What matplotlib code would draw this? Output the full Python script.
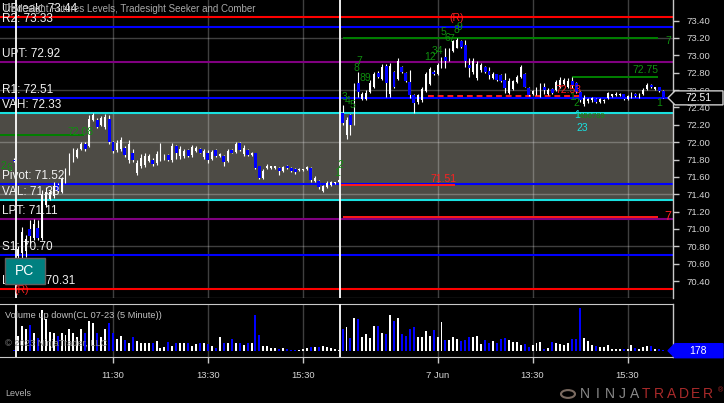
import numpy as np
import matplotlib
matplotlib.use("Agg")
import matplotlib.pyplot as plt
from matplotlib.patches import Rectangle, Polygon
from matplotlib.transforms import IdentityTransform, blended_transform_factory

plt.rcParams['font.family'] = ['Liberation Sans', 'DejaVu Sans']

# CL 07-23, 5 minute bars. first bar = last bar of the previous session,
# then 82 bars on 6 Jun and 82 bars on 7 Jun
opens = [71.80,
    70.69, 70.72, 70.75, 71.00, 70.90, 71.01, 70.90, 71.28, 71.35, 71.38,
    71.51, 71.43, 71.55, 71.63, 71.78, 71.83, 71.92, 71.98, 71.95, 72.26,
    72.26, 72.20, 72.17, 72.27, 72.00, 71.91, 71.92, 71.93, 71.80, 71.88,
    71.64, 71.72, 71.74, 71.78, 71.80, 71.76, 71.80, 71.80, 71.85, 71.80,
    71.95, 71.84, 71.84, 71.91, 71.85, 71.90, 71.92, 71.83, 71.87, 71.81,
    71.91, 71.84, 71.84, 71.78, 71.91, 71.89, 71.99, 71.86, 71.91, 71.85,
    71.87, 71.72, 71.59, 71.70, 71.70, 71.70, 71.70, 71.67, 71.73, 71.70,
    71.69, 71.68, 71.68, 71.69, 71.70, 71.55, 71.55, 71.44, 71.48, 71.51,
    71.53, 71.54,
    72.34, 72.08, 72.31, 72.22, 72.68, 72.50, 72.50, 72.58, 72.63, 72.80,
    72.73, 72.88, 72.55, 72.81, 72.73, 72.86, 72.80, 72.69, 72.54, 72.46,
    72.48, 72.59, 72.67, 72.81, 72.78, 72.86, 72.98, 72.94, 73.05, 73.09,
    73.16, 73.12, 72.89, 72.81, 72.74, 72.83, 72.87, 72.82, 72.74, 72.78,
    72.77, 72.72, 72.57, 72.61, 72.69, 72.75, 72.79, 72.62, 72.55, 72.56,
    72.54, 72.63, 72.56, 72.61, 72.60, 72.64, 72.67, 72.64, 72.71, 72.68,
    72.58, 72.44, 72.47, 72.48, 72.50, 72.46, 72.47, 72.51, 72.53, 72.54,
    72.54, 72.55, 72.50, 72.52, 72.56, 72.52, 72.55, 72.61, 72.66, 72.61,
    72.63, 72.59]
highs = [71.82,
    70.80, 71.02, 70.93, 71.10, 71.12, 71.10, 71.45, 71.48, 71.45, 71.54,
    71.53, 71.60, 71.70, 71.87, 71.93, 71.93, 72.00, 72.00, 72.31, 72.33,
    72.28, 72.30, 72.32, 72.31, 72.01, 72.02, 72.06, 71.95, 72.03, 71.92,
    71.80, 71.86, 71.88, 71.86, 71.82, 71.90, 71.99, 71.86, 71.86, 71.99,
    71.97, 71.96, 71.92, 71.92, 71.97, 71.95, 71.93, 71.92, 71.91, 71.91,
    71.92, 71.88, 71.85, 71.92, 71.92, 72.00, 72.00, 71.97, 71.92, 71.89,
    71.88, 71.73, 71.69, 71.75, 71.73, 71.73, 71.71, 71.73, 71.74, 71.71,
    71.70, 71.70, 71.69, 71.73, 71.71, 71.61, 71.56, 71.51, 71.55, 71.55,
    71.54, 71.57,
    72.43, 72.29, 72.32, 72.68, 72.81, 72.58, 72.60, 72.72, 72.81, 72.82,
    72.90, 72.90, 72.91, 72.82, 72.97, 72.88, 72.81, 72.83, 72.56, 72.56,
    72.64, 72.81, 72.87, 72.83, 72.91, 72.98, 73.08, 73.08, 73.18, 73.20,
    73.18, 73.18, 72.97, 72.97, 72.93, 72.91, 72.88, 72.87, 72.81, 72.79,
    72.78, 72.80, 72.74, 72.72, 72.77, 72.89, 72.80, 72.63, 72.60, 72.64,
    72.68, 72.68, 72.62, 72.62, 72.72, 72.75, 72.74, 72.74, 72.75, 72.69,
    72.59, 72.54, 72.51, 72.52, 72.51, 72.51, 72.50, 72.58, 72.56, 72.58,
    72.57, 72.56, 72.54, 72.58, 72.57, 72.57, 72.62, 72.68, 72.67, 72.64,
    72.64, 72.60]
lows = [71.77,
    70.66, 70.67, 70.68, 70.82, 70.87, 70.87, 70.87, 71.25, 71.33, 71.36,
    71.42, 71.41, 71.53, 71.62, 71.77, 71.82, 71.91, 71.90, 71.94, 72.24,
    72.16, 72.19, 72.15, 71.98, 71.88, 71.89, 71.90, 71.83, 71.76, 71.77,
    71.62, 71.70, 71.71, 71.77, 71.73, 71.74, 71.78, 71.79, 71.78, 71.77,
    71.81, 71.81, 71.82, 71.83, 71.83, 71.89, 71.87, 71.81, 71.76, 71.79,
    71.83, 71.83, 71.73, 71.77, 71.87, 71.88, 71.90, 71.84, 71.84, 71.84,
    71.69, 71.57, 71.58, 71.69, 71.69, 71.69, 71.62, 71.66, 71.69, 71.66,
    71.63, 71.67, 71.67, 71.68, 71.54, 71.54, 71.46, 71.42, 71.47, 71.50,
    71.52, 71.53,
    72.20, 72.04, 72.08, 72.20, 72.52, 72.49, 72.49, 72.57, 72.62, 72.74,
    72.72, 72.52, 72.52, 72.62, 72.72, 72.80, 72.69, 72.51, 72.33, 72.44,
    72.46, 72.58, 72.66, 72.77, 72.77, 72.85, 72.85, 72.93, 73.04, 73.08,
    73.09, 72.87, 72.75, 72.79, 72.72, 72.81, 72.80, 72.73, 72.73, 72.71,
    72.69, 72.57, 72.56, 72.60, 72.68, 72.74, 72.63, 72.53, 72.54, 72.54,
    72.52, 72.56, 72.54, 72.56, 72.59, 72.62, 72.66, 72.62, 72.62, 72.57,
    72.46, 72.42, 72.45, 72.46, 72.45, 72.45, 72.45, 72.50, 72.52, 72.53,
    72.53, 72.48, 72.49, 72.51, 72.52, 72.51, 72.54, 72.60, 72.62, 72.60,
    72.58, 72.51]
closes = [71.78,
    70.77, 70.96, 70.88, 70.92, 71.06, 70.89, 71.40, 71.42, 71.43, 71.50,
    71.44, 71.57, 71.68, 71.83, 71.90, 71.91, 71.98, 71.92, 72.27, 72.31,
    72.18, 72.28, 72.29, 72.00, 71.90, 71.99, 72.03, 71.85, 71.98, 71.80,
    71.76, 71.82, 71.84, 71.84, 71.75, 71.86, 71.93, 71.85, 71.80, 71.95,
    71.87, 71.92, 71.90, 71.84, 71.94, 71.93, 71.88, 71.90, 71.80, 71.89,
    71.84, 71.86, 71.77, 71.90, 71.88, 71.98, 71.91, 71.93, 71.85, 71.88,
    71.70, 71.59, 71.67, 71.73, 71.72, 71.72, 71.67, 71.71, 71.70, 71.67,
    71.66, 71.69, 71.69, 71.71, 71.56, 71.59, 71.48, 71.49, 71.53, 71.54,
    71.54, 71.56,
    72.22, 72.26, 72.20, 72.65, 72.58, 72.56, 72.57, 72.68, 72.78, 72.75,
    72.87, 72.68, 72.88, 72.63, 72.94, 72.81, 72.70, 72.54, 72.45, 72.54,
    72.61, 72.78, 72.84, 72.78, 72.89, 72.96, 72.94, 73.06, 73.16, 73.18,
    73.10, 72.93, 72.85, 72.94, 72.90, 72.89, 72.81, 72.77, 72.79, 72.72,
    72.70, 72.62, 72.71, 72.70, 72.75, 72.86, 72.64, 72.54, 72.59, 72.62,
    72.65, 72.60, 72.60, 72.57, 72.69, 72.72, 72.72, 72.71, 72.66, 72.58,
    72.48, 72.51, 72.50, 72.51, 72.46, 72.50, 72.49, 72.57, 72.55, 72.56,
    72.56, 72.50, 72.53, 72.56, 72.53, 72.55, 72.60, 72.66, 72.63, 72.63,
    72.59, 72.51]
volumes = [120,
    2640, 4440, 3840, 4620, 3120, 2220, 7320, 5640, 3420, 3240,
    2640, 3120, 2820, 3840, 3120, 2520, 3840, 3120, 5400, 4920,
    3120, 2520, 3840, 4920, 3120, 2040, 2640, 1920, 1440, 2520,
    1800, 1440, 1320, 1320, 1320, 1800, 420, 720, 1620, 840,
    1320, 1320, 1440, 1440, 840, 1200, 1440, 1440, 1200, 840,
    420, 2520, 1440, 1320, 2040, 1320, 1320, 1020, 1320, 1320,
    6420, 2820, 840, 840, 420, 420, 240, 420, 240, 120,
    120, 120, 300, 420, 600, 720, 600, 840, 600, 420,
    240, 180,
    3840, 4320, 2220, 5820, 5640, 2520, 3000, 2220, 4440, 4440,
    3120, 3000, 6420, 5400, 5880, 3000, 2640, 3840, 4200, 2400,
    2400, 3600, 2640, 3720, 2400, 5160, 1920, 1920, 2400, 2040,
    1680, 1920, 2400, 2520, 2640, 1200, 1920, 1440, 1800, 1440,
    2040, 2220, 1920, 1620, 1620, 1080, 1200, 720, 960, 1440,
    1560, 360, 420, 1560, 1320, 1200, 1080, 1320, 2040, 2040,
    7740, 2340, 1800, 1020, 840, 720, 600, 1080, 360, 300,
    360, 240, 240, 1080, 480, 360, 600, 840, 840, 240,
    240, 178]

session_first_bar = [1, 83]
time_tick_bars = [25, 49, 73, 107, 131, 155]
time_tick_labels = ['11:30', '13:30', '15:30', '7 Jun', '13:30', '15:30']

level_names = ['UBreak', 'R2', 'UPT', 'R1', 'VAH', 'Pivot', 'VAL', 'LPT', 'S1', 'LBreak']
level_values = [73.44, 73.33, 72.92, 72.51, 72.33, 71.52, 71.33, 71.11, 70.70, 70.31]

# seeker / comber target lines: value, first bar, last bar
seg_values = [72.08, 73.20, 72.75, 72.53, 71.51, 71.14]
seg_start = [-3.5, 83.1, 141.0, 104.6, 82.4, 83.1]
seg_end = [17.7, 162.7, 162.7, 143.0, 111.4, 162.7]

W, H = 724, 403
level_colors = {'UBreak': '#ff0000', 'LBreak': '#ff0000', 'R2': '#0000ff', 'R1': '#0000ff',
                'Pivot': '#0000ff', 'S1': '#0000ff', 'UPT': '#800080', 'LPT': '#800080',
                'VAH': '#19e0e0', 'VAL': '#19e0e0'}
seg_styles = [('#008000', '-'), ('#008000', '-'), ('#008000', '-'),
              ('#ff1a1a', (0, (3, 2))), ('#ff1a1a', '-'), ('#ff1a1a', '-')]
UPC, DNC = '#ffffff', '#0000ff'
GRID = (1, 1, 1, 0.25)
TXT = '#d4d4d4'

o, h, l, c = map(np.array, (opens, highs, lows, closes))
v = np.array(volumes)
x = np.arange(len(o))
up = c >= o
col = np.where(up, UPC, DNC)

fig = plt.figure(figsize=(W / 100, H / 100), dpi=100, facecolor='black')


def px_axes(x0, y0, x1, y1):
    return fig.add_axes([x0 / W, 1 - y1 / H, (x1 - x0) / W, (y1 - y0) / H])


def ftext(xp, yp, s, **kw):
    fig.text(xp / W, 1 - yp / H, s, **kw)


ax = px_axes(0, 0, 673, 298)
vax = px_axes(0, 304, 673, 357)
xlim = (-3.547, 166.49)
for a in (ax, vax):
    a.set_facecolor('black')
    a.set_xlim(*xlim)
    for s in ('left', 'top', 'bottom'):
        a.spines[s].set_visible(False)
    a.spines['right'].set_color('#c8c8c8')
    a.spines['right'].set_linewidth(1)
ax.set_ylim(70.2044, 73.6376)
vax.set_ylim(-1134, 8406)

# value area box and grid
ax.axhspan(level_values[6], level_values[4], color='#4d4b45', zorder=0, lw=0)
for gy in [73.2, 72.6, 72.0, 71.4, 70.8, 70.2]:
    ax.axhline(gy, color=GRID, lw=1, zorder=0.5)
for a in (ax, vax):
    for tb in time_tick_bars:
        a.axvline(tb, color=GRID, lw=1, zorder=0.5)
    for sb in session_first_bar:
        a.axvline(sb - 0.55, color='white', lw=1.3, zorder=4)

# levels
for name, val in zip(level_names, level_values):
    ax.axhline(val, color=level_colors[name], lw=1.5, zorder=1)
for val, s0, s1, (sc, ls) in zip(seg_values, seg_start, seg_end, seg_styles):
    ax.hlines(val, s0, s1, color=sc, lw=1.4, linestyle=ls, zorder=1.5)

# candles
ax.vlines(x, l, h, color='white', lw=0.8, zorder=2)
body_lo = np.minimum(o, c)
body_h = np.maximum(np.abs(c - o), 0.012)
ax.bar(x[up], body_h[up], bottom=body_lo[up], width=0.45, color=UPC, lw=0, zorder=3)
ax.bar(x[~up], body_h[~up], bottom=body_lo[~up], width=0.75, color=DNC, lw=0, zorder=3)

# volume
vax.bar(x, v, width=0.5, color=col, lw=0, zorder=2)
vax.spines['top'].set_visible(True)
vax.spines['bottom'].set_visible(True)
vax.spines['top'].set_color('#c8c8c8')
vax.spines['bottom'].set_color('#c8c8c8')
vax.set_yticks([])
vax.set_xticks(time_tick_bars)
vax.set_xticklabels(time_tick_labels)
vax.tick_params(axis='x', colors='#c8c8c8', length=4, width=1, pad=6, labelsize=6.8,
                labelcolor=TXT)

# price axis
ax.set_xticks([])
ax.yaxis.tick_right()
ax.set_yticks(np.round(np.arange(70.4, 73.41, 0.2), 2))
ax.set_yticklabels([f'{t:.2f}' for t in np.arange(70.4, 73.41, 0.2)])
ax.tick_params(axis='y', colors='#c8c8c8', length=4, width=1, pad=6, labelsize=6.8,
               labelcolor=TXT)

# level labels on the left
tr = blended_transform_factory(ax.transAxes, ax.transData)
for name, val in zip(level_names, level_values):
    ax.text(0.003, val + 0.025, f'{name}: {val:.2f}', transform=tr, color='#f2f2f2',
            fontsize=8.5, ha='left', va='bottom', zorder=6)

# seeker / comber counts
greens = [('72.08', 16.7, 72.12), ('7', 87.2, 72.93), ('8', 86.4, 72.85), ('89', 88.7, 72.74),
          ('3', 83.4, 72.52), ('4', 84.2, 72.47), ('5', 85.4, 72.43), ('12', 105.1, 72.98),
          ('34', 106.9, 73.05), ('5', 108.4, 73.27), ('6', 109.4, 73.20), ('7', 110.4, 73.19),
          ('8', 111.7, 73.29), ('9', 112.5, 73.33), ('7', 165.2, 73.17), ('72.75', 159.6, 72.83),
          ('1', 141.0, 72.52), ('2', 142.0, 72.45), ('3456789', 145.6, 72.29), ('1', 163.0, 72.45),
          ('1', 81.6, 71.65), ('2', 82.4, 71.74), ('2', -2.8, 71.73), ('6', -1.2, 71.70)]
for s, gx, gy in greens:
    ax.text(gx, gy, s, color='#0f8f0f', fontsize=7.5 if len(s) < 7 else 5.5,
            ha='center', va='center', zorder=6)
reds = [('(R)', 111.7, 73.43), ('(R)', 1.8, 70.30), ('72.53', 140.0, 72.60),
        ('71.51', 108.6, 71.57), ('7', 165.2, 71.14)]
for s, rx, ry in reds:
    ax.text(rx, ry, s, color='#ff2020', fontsize=7.5 if s != '7' else 9,
            ha='center', va='center', zorder=6)
for s, cx, cy in [('1', 142.2, 72.31), ('23', 143.5, 72.16)]:
    ax.text(cx, cy, s, color='#19e0e0', fontsize=7.5, ha='center', va='center', zorder=6)

# title and panel texts
ftext(3, 9, 'Tradesight Futures Levels, Tradesight Seeker and Comber', color='#a8a8a8',
      fontsize=7, va='center', zorder=1)
ftext(5, 316, 'Volume up down(CL 07-23 (5 Minute))', color='#c0c0c0', fontsize=6.7,
      va='center')
ftext(5, 343, '\u00a9 2023 NinjaTrader, LLC', color='#8c8c8c', fontsize=6.7, va='center')
ftext(5, 393, 'Levels', color='#b4b4b4', fontsize=6.5, va='center')

# PC button
fig.patches.append(Rectangle((5 / W, 1 - 284 / H), 40 / W, 26 / H, transform=fig.transFigure,
                             facecolor='#008080', edgecolor='#606060', lw=1, zorder=10))
ftext(25, 271, 'PC', color='white', fontsize=10, ha='center', va='center', zorder=11)

# last price and last volume markers
fig.canvas.draw()
yp = ax.transData.transform((0, c[-1]))[1]
yv = vax.transData.transform((0, 0))[1]
for yy, face, edge, label in [(yp, 'black', '#d0d0d0', f'{c[-1]:.2f}'),
                              (yv, '#0000ff', '#0000ff', f'{v[-1]}')]:
    fig.patches.append(Polygon([(668, yy), (675, yy + 7), (723, yy + 7), (723, yy - 7),
                                (675, yy - 7)], closed=True, transform=IdentityTransform(),
                               facecolor=face, edgecolor=edge, lw=1, zorder=10))
    fig.text(698 / W, yy / H, label, color='white', fontsize=7.5, ha='center', va='center',
             zorder=11)

# NinjaTrader logo
for i, ch in enumerate('NINJATRADER'):
    ftext(585 + i * 12.3, 394, ch, color='#8a8a8a' if i < 5 else '#a82a2a', fontsize=10,
          ha='center', va='center')
ftext(720, 391, '\u00ae', color='#a82a2a', fontsize=5, ha='center', va='center')
fig.patches.append(matplotlib.patches.Circle((568 / W, 1 - 394 / H), 7 / W,
                                             transform=fig.transFigure, facecolor='none',
                                             edgecolor='#7a6a60', lw=1.5))

fig.savefig('out.png', dpi=100, facecolor='black')
